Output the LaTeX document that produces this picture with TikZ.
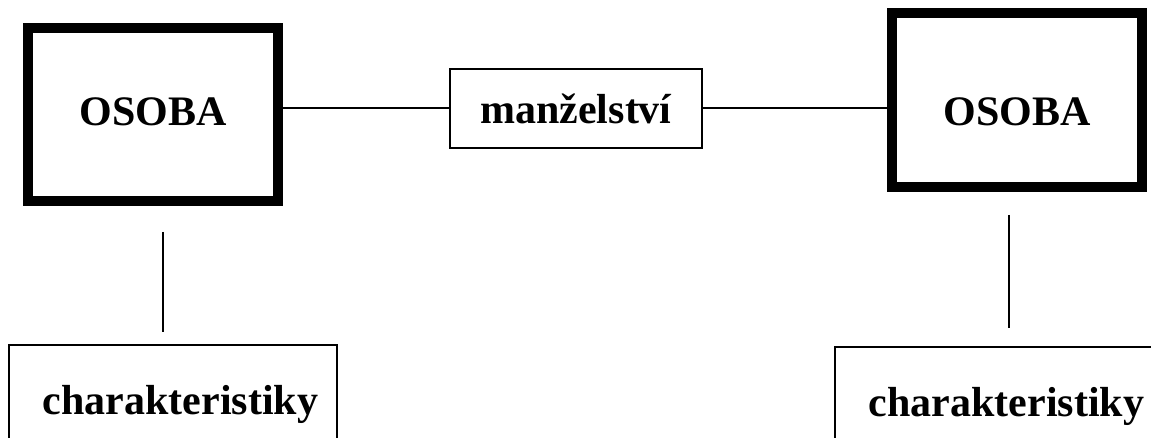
\documentclass[tikz,border=0pt]{standalone}
\usepackage{fontspec}
\setmainfont{Liberation Serif}
\begin{document}
\begin{tikzpicture} [
  x=0.5pt, y=-0.5pt,
  every node/.style= {font=\fontsize{21pt}{25pt}\selectfont\bfseries},
  entity/.style= {draw,line width=5pt,minimum width=125pt},
  relation/.style= {draw,line width=1pt,minimum width=126pt,minimum height=39.5pt},
  attrbox/.style= {draw,line width=1pt,minimum width=164pt,minimum height=57pt},
  link/.style= {line width=1pt},
]
\path [use as bounding box,clip] (0,0) rectangle (1151,438);
% entities and the relationship between them
\node (osobaL) [entity,minimum height=86.5pt,
  label={[yshift=1.5pt]center:OSOBA}] at (153,114.5) {};
\node (osobaR) [entity,minimum height=87pt,
  label={[yshift=-6pt]center:OSOBA}] at (1017,100) {};
\node (manzel) [relation] at (576,108.5) {man\v{z}elstv\'{\i}};
% attribute boxes
\node (charL) [attrbox,label={[xshift=4pt,yshift=-1pt]center:charakteristiky}] at (172.5,402) {};
\node (charR) [attrbox,label={[xshift=4pt,yshift=-1pt]center:charakteristiky}] at (998.5,404) {};
\coordinate (topL) at (163,232);
\coordinate (botL) at (163,332);
\coordinate (topR) at (1009,215);
\coordinate (botR) at (1009,328);

\draw [link] (manzel.west) -- (manzel.west -| osobaL.east);
\draw [link] (manzel.east) -- (manzel.east -| osobaR.west);
\draw [link] (topL) -- (botL);
\draw [link] (topR) -- (botR);
\end{tikzpicture}
\end{document}
